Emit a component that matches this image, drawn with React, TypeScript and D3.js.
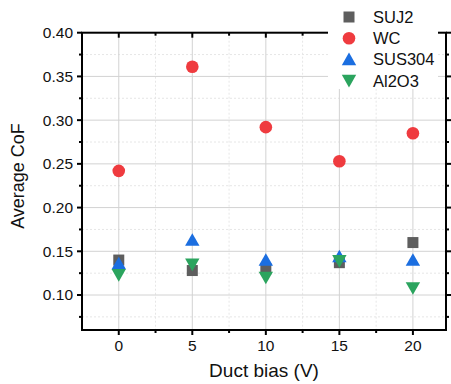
import React from "react";
import * as d3 from "d3";

const biases = [0, 5, 10, 15, 20];
const suj2 = [0.14, 0.128, 0.13, 0.137, 0.16];
const wc = [0.242, 0.361, 0.292, 0.253, 0.285];
const sus304 = [0.136, 0.163, 0.14, 0.144, 0.14];
const al2o3 = [0.123, 0.135, 0.12, 0.139, 0.108];
const seriesNames = ["SUJ2", "WC", "SUS304", "Al2O3"];
const xTicks = [0, 5, 10, 15, 20];
const xMinor = [-2.5, 2.5, 7.5, 12.5, 17.5];
const yTicks = [0.1, 0.15, 0.2, 0.25, 0.3, 0.35, 0.4];
const yMinor = [0.075, 0.125, 0.175, 0.225, 0.275, 0.325, 0.375];

const W = 451, H = 384;
const L = 82, R = 446, T = 32.7, B = 330;
const FONT = "Liberation Sans, Arial, sans-serif";

const colors = ["#5e5e5e", "#ef3b3f", "#1b6ee0", "#2ba45e"];
const shapes = ["square", "circle", "up", "down"];

function Marker({ shape, x, y, color }: { shape: string; x: number; y: number; color: string }) {
  if (shape === "square") return <rect x={x - 5.5} y={y - 5.5} width={11} height={11} fill={color} />;
  if (shape === "circle") return <circle cx={x} cy={y} r={6.3} fill={color} />;
  const hw = 7.2, hh = 6.3;
  if (shape === "up")
    return <path d={`M${x},${y - hh - 0.5}L${x + hw},${y + hh - 0.5}L${x - hw},${y + hh - 0.5}Z`} fill={color} />;
  return <path d={`M${x},${y + hh + 0.5}L${x + hw},${y - hh + 0.5}L${x - hw},${y - hh + 0.5}Z`} fill={color} />;
}

export default function App() {
  const x = d3.scaleLinear().domain([-2.5, 22.25]).range([L, R]);
  const y = d3.scaleLinear().domain([0.06, 0.4]).range([B, T]);
  const data = [suj2, wc, sus304, al2o3];

  return (
    <svg width={W} height={H} style={{ position: "absolute", left: 0, top: 0 }} fontFamily={FONT}>
      <rect width={W} height={H} fill="white" />
      {/* minor grid */}
      {xMinor.filter((v) => x(v) > L + 1).map((v) => (
        <line key={"xm" + v} x1={x(v)} x2={x(v)} y1={T} y2={B} stroke="#e6e6e6" strokeWidth={1} strokeDasharray="2,2" />
      ))}
      {yMinor.map((v) => (
        <line key={"ym" + v} x1={L} x2={R} y1={y(v)} y2={y(v)} stroke="#e6e6e6" strokeWidth={1} strokeDasharray="2,2" />
      ))}
      {/* major grid */}
      {xTicks.map((v) => (
        <line key={"xg" + v} x1={x(v)} x2={x(v)} y1={T} y2={B} stroke="#d2d2d2" strokeWidth={1} />
      ))}
      {yTicks.map((v) => (
        <line key={"yg" + v} x1={L} x2={R} y1={y(v)} y2={y(v)} stroke="#d2d2d2" strokeWidth={1} />
      ))}
      {/* markers */}
      {data.map((s, si) =>
        s.map((v, i) => (
          <Marker key={si + "-" + i} shape={shapes[si]} x={x(biases[i])} y={y(v)} color={colors[si]} />
        ))
      )}
      {/* axes frame */}
      <rect x={L} y={T} width={R - L} height={B - T} fill="none" stroke="black" strokeWidth={2} />
      {/* left ticks */}
      {yTicks.map((v) => (
        <line key={"lt" + v} x1={L - 5} x2={L} y1={y(v)} y2={y(v)} stroke="black" strokeWidth={2} />
      ))}
      {yMinor.map((v) => (
        <line key={"lm" + v} x1={L - 3} x2={L} y1={y(v)} y2={y(v)} stroke="black" strokeWidth={2} />
      ))}
      {/* right ticks */}
      {yTicks.map((v) => (
        <line key={"rt" + v} x1={R} x2={R + 5} y1={y(v)} y2={y(v)} stroke="black" strokeWidth={2} />
      ))}
      {yMinor.map((v) => (
        <line key={"rm" + v} x1={R} x2={R + 3} y1={y(v)} y2={y(v)} stroke="black" strokeWidth={2} />
      ))}
      {/* bottom ticks */}
      {xTicks.map((v) => (
        <line key={"bt" + v} x1={x(v)} x2={x(v)} y1={B} y2={B + 5} stroke="black" strokeWidth={2} />
      ))}
      {xMinor.filter((v) => x(v) > L + 1).map((v) => (
        <line key={"bm" + v} x1={x(v)} x2={x(v)} y1={B} y2={B + 3} stroke="black" strokeWidth={2} />
      ))}
      {/* top ticks */}
      {xTicks.map((v) => (
        <line key={"tt" + v} x1={x(v)} x2={x(v)} y1={T} y2={T + 5} stroke="black" strokeWidth={2} />
      ))}
      {xMinor.filter((v) => x(v) > L + 1).map((v) => (
        <line key={"tm" + v} x1={x(v)} x2={x(v)} y1={T} y2={T + 3} stroke="black" strokeWidth={2} />
      ))}
      {/* tick labels */}
      {yTicks.map((v) => (
        <text key={"yl" + v} x={L - 9} y={y(v)} dy="0.35em" textAnchor="end" fontSize={15.5} fill="#111">
          {d3.format(".2f")(v)}
        </text>
      ))}
      {xTicks.map((v) => (
        <text key={"xl" + v} x={x(v)} y={351} textAnchor="middle" fontSize={15.5} fill="#111">
          {v}
        </text>
      ))}
      {/* axis titles */}
      <text x={(L + R) / 2} y={377} textAnchor="middle" fontSize={19} fill="#111">
        Duct bias (V)
      </text>
      <text transform={`translate(24,176) rotate(-90)`} textAnchor="middle" fontSize={18} fill="#111">
        Average CoF
      </text>
      {/* legend */}
      <rect x={328} y={0} width={110} height={89} fill="white" />
      {seriesNames.map((n, i) => (
        <g key={"lg" + n}>
          <Marker shape={shapes[i]} x={349} y={17 + i * 21.2} color={colors[i]} />
          <text x={373} y={17 + i * 21.2} dy="0.36em" fontSize={16.5} fill="#111">
            {n}
          </text>
        </g>
      ))}
    </svg>
  );
}
